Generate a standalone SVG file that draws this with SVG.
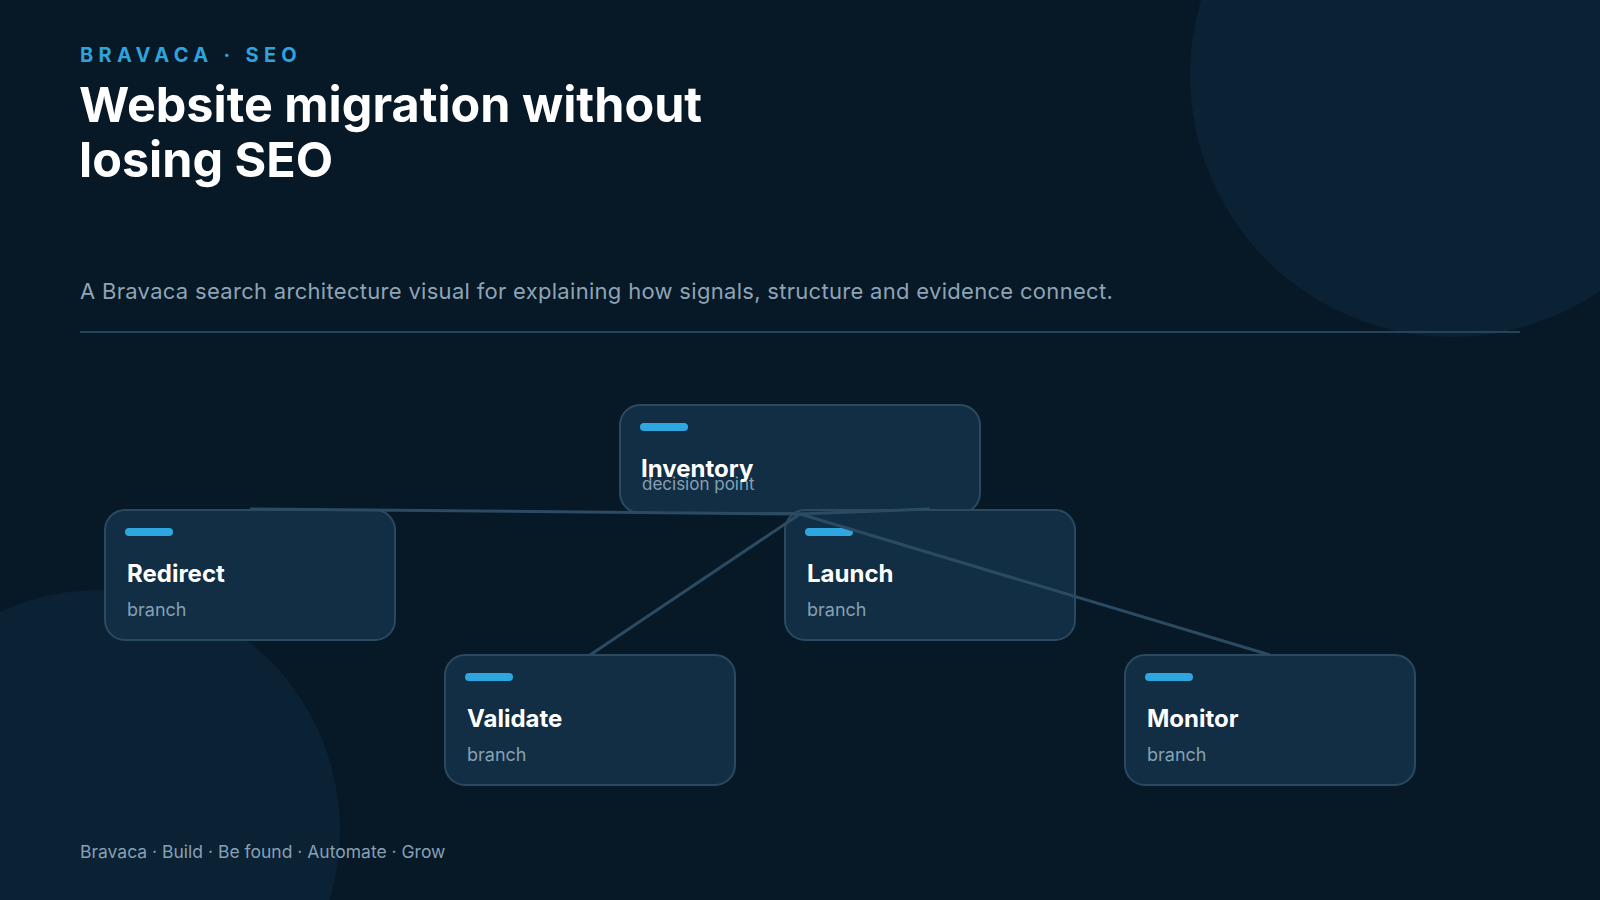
<svg xmlns="http://www.w3.org/2000/svg" width="1600" height="900" viewBox="0 0 1600 900">
<defs>
<style>
.bg{fill:#071827}
.blob{fill:#0b2134}
.card{fill:#122e45;stroke:#2a4a60;stroke-width:2}
.bar{fill:#2ea6e0}
.title{font-family:Inter,"Liberation Sans",sans-serif;font-weight:700;font-size:24px;fill:#ffffff}
.sub{font-family:Inter,"Liberation Sans",sans-serif;font-weight:400;font-size:18px;fill:#86a0b4}
.edge{stroke:#2b4b62;stroke-width:3;fill:none}
</style>
</defs>
<rect class="bg" x="0" y="0" width="1600" height="900"/>
<circle class="blob" cx="1452" cy="75" r="262"/>
<circle class="blob" cx="100" cy="830" r="240"/>
<text x="80" y="62" font-family="Inter,'Liberation Sans',sans-serif" font-weight="700" font-size="20" letter-spacing="5.3" fill="#2fa3dc">BRAVACA · SEO</text>
<text font-family="Inter,'Liberation Sans',sans-serif" font-weight="700" font-size="48.5" fill="#ffffff"><tspan x="79" y="122">Website migration without</tspan><tspan x="79" y="177">losing SEO</tspan></text>
<text x="80" y="299" font-family="Inter,'Liberation Sans',sans-serif" font-size="22" letter-spacing="0.3" fill="#8ea4b5">A Bravaca search architecture visual for explaining how signals, structure and evidence connect.</text>
<rect x="80" y="331" width="1440" height="2" fill="#24445a"/>
<g id="node-inventory">
<rect class="card" x="620" y="405" width="360" height="108" rx="20"/>
<rect class="bar" x="640" y="423" width="48" height="8" rx="4"/>
<text class="sub" x="642" y="490" style="font-size:17px">decision point</text>
<text class="title" x="641" y="477">Inventory</text>
</g>
<g id="node-redirect">
<rect class="card" x="105" y="510" width="290" height="130" rx="20"/>
<rect class="bar" x="125" y="528" width="48" height="8" rx="4"/>
<text class="title" x="127" y="582">Redirect</text>
<text class="sub" x="127" y="616">branch</text>
</g>
<g id="node-launch">
<rect class="card" x="785" y="510" width="290" height="130" rx="20"/>
<rect class="bar" x="805" y="528" width="48" height="8" rx="4"/>
<text class="title" x="807" y="582">Launch</text>
<text class="sub" x="807" y="616">branch</text>
</g>
<g id="node-validate">
<rect class="card" x="445" y="655" width="290" height="130" rx="20"/>
<rect class="bar" x="465" y="673" width="48" height="8" rx="4"/>
<text class="title" x="467" y="727">Validate</text>
<text class="sub" x="467" y="761">branch</text>
</g>
<g id="node-monitor">
<rect class="card" x="1125" y="655" width="290" height="130" rx="20"/>
<rect class="bar" x="1145" y="673" width="48" height="8" rx="4"/>
<text class="title" x="1147" y="727">Monitor</text>
<text class="sub" x="1147" y="761">branch</text>
</g>
<g id="connectors">
<line class="edge" x1="800" y1="514" x2="250" y2="509"/>
<line class="edge" x1="800" y1="514" x2="930" y2="509"/>
<line class="edge" x1="800" y1="514" x2="590" y2="655"/>
<line class="edge" x1="800" y1="514" x2="1270" y2="655"/>
</g>
<text x="80" y="858" font-family="Inter,'Liberation Sans',sans-serif" font-size="17.5" fill="#86a0b4">Bravaca · Build · Be found · Automate · Grow</text>
</svg>
